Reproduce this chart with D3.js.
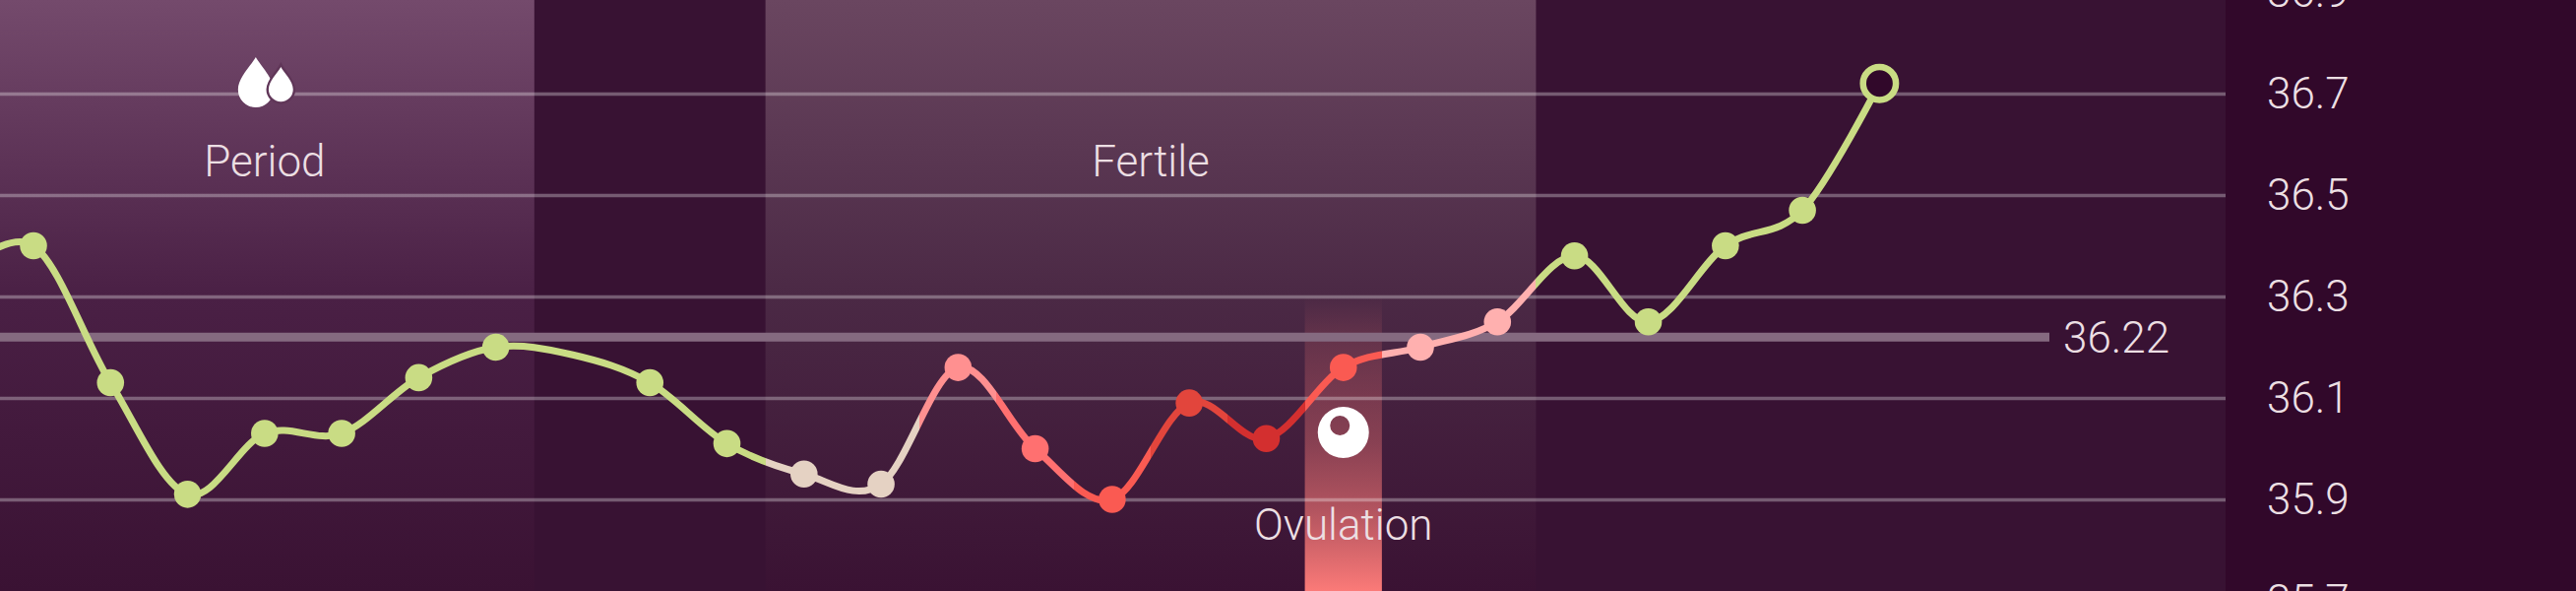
<!DOCTYPE html>
<html><head><meta charset="utf-8">
<script src="https://cdn.jsdelivr.net/npm/d3@7"></script>
<style>html,body{margin:0;padding:0;background:#31082a;overflow:hidden}svg{display:block}text{font-family:Roboto,"Liberation Sans",sans-serif;font-weight:300;fill:#ecdfe3}</style>
</head><body><svg id="c" width="2617" height="600"></svg>
<script>
const days=[-1,0,1,2,3,4,5,6,7,8,9,10,11,12,13,14,15,16,17,18,19,20,20.958,21.958,22.958,23.958];
const temps=[36.34,36.40,36.13,35.91,36.03,36.03,36.14,36.20,36.185,36.13,36.01,35.95,35.93,36.16,36.00,35.90,36.09,36.02,36.16,36.20,36.25,36.38,36.25,36.40,36.47,36.72];
const GREEN="#c9dc84",BEIGE="#e5d2c3",P1="#ff9090",P2="#ff7070",R1="#fa5a52",R2="#e2453c",R3="#d32f2f",P3="#ffb0af";
const dotColors=[GREEN,GREEN,GREEN,GREEN,GREEN,GREEN,GREEN,GREEN,null,GREEN,GREEN,BEIGE,BEIGE,P1,P2,R1,R2,R3,R1,P3,P3,GREEN,GREEN,GREEN,GREEN,GREEN];
const ticks=[36.9,36.7,36.5,36.3,36.1,35.9,35.7];
const threshold=36.22;
const bands=[{label:"Period",from:-1,to:6.5,textDay:3,id:"gP"},{label:"Fertile",from:9.5,to:19.5,textDay:14.5,id:"gF"}];
const ovulationDay=17;
const lastDay=days[days.length-1];

const W=2617,H=600,plotW=2261;
const x=d3.scaleLinear().domain([0,lastDay]).range([34,1909.4]);
const y=d3.scaleLinear().domain([36.7,35.9]).range([95,507]);
const svg=d3.select("#c");
const defs=svg.append("defs");
function grad(id,stops){const g=defs.append("linearGradient").attr("id",id).attr("x1",0).attr("x2",0).attr("y1",0).attr("y2",1);
 stops.forEach(s=>g.append("stop").attr("offset",s[0]).attr("stop-color",s[1]).attr("stop-opacity",s[2]===undefined?1:s[2]));}
grad("gP",[[0,"#744a6c"],[.5,"#4a2045"],[1,"#3a1233"]]);
grad("gF",[[0,"#6a4660"],[.5,"#4b2945"],[1,"#3a1233"]]);
grad("gO",[[0,"#fb7a78",0],[.15,"#fb7a78",.16],[.5,"#fb7a78",.38],[.73,"#fb7a78",.62],[1,"#fb7a78",1]]);
svg.append("rect").attr("width",W).attr("height",H).attr("fill","#31082a");
svg.append("rect").attr("width",plotW).attr("height",H).attr("fill","#381233");
bands.forEach(b=>svg.append("rect").attr("x",Math.max(0,x(b.from))).attr("width",x(b.to)-Math.max(0,x(b.from))).attr("y",0).attr("height",H).attr("fill",`url(#${b.id})`));
svg.append("rect").attr("x",x(ovulationDay-.5)).attr("width",x(ovulationDay+.5)-x(ovulationDay-.5)).attr("y",300).attr("height",300).attr("fill","url(#gO)");
// grid
const axis=d3.axisRight(y).tickValues(ticks).tickSize(plotW).tickPadding(42).tickFormat(d3.format(".1f"));
const ax=svg.append("g").call(axis);
ax.select(".domain").remove();
ax.selectAll("line").attr("stroke","#fff").attr("stroke-opacity",.31).attr("stroke-width",3.5);
ax.selectAll("text").attr("font-size",44).style("fill","#ecdfe3").style("font-family",'Roboto,"Liberation Sans",sans-serif');
// threshold
svg.append("line").attr("x1",0).attr("x2",2082).attr("y1",y(threshold)).attr("y2",y(threshold)).attr("stroke","#856a80").attr("stroke-width",9);
svg.append("text").attr("x",2096).attr("y",y(threshold)).attr("dy",".36em").attr("font-size",44).text(threshold);
// line with hard colour stops
const lg=defs.append("linearGradient").attr("id","lineG").attr("gradientUnits","userSpaceOnUse").attr("x1",0).attr("x2",W).attr("y1",0).attr("y2",0);
dotColors.forEach((c,i)=>{ if(i===0) return; const col=c||GREEN; const a=x(days[i]-.5)/W,b=x(days[i]+.5)/W;
 lg.append("stop").attr("offset",Math.max(0,a)).attr("stop-color",col); lg.append("stop").attr("offset",b).attr("stop-color",col);});
const line=d3.line().x((d,i)=>x(days[i])).y(d=>y(d)).curve(d3.curveCardinal.tension(0));
svg.append("path").attr("d",line(temps)).attr("fill","none").attr("stroke","url(#lineG)").attr("stroke-width",7);
const pts=days.map((d,i)=>({d,t:temps[i],c:dotColors[i]})).filter(p=>p.c&&p.d<lastDay);
svg.selectAll("circle.pt").data(pts).join("circle").attr("class","pt").attr("cx",p=>x(p.d)).attr("cy",p=>y(p.t)).attr("r",13.8).attr("fill",p=>p.c);
svg.append("circle").attr("cx",x(lastDay)).attr("cy",y(temps[temps.length-1])).attr("r",16.7).attr("fill","#31082a").attr("stroke",GREEN).attr("stroke-width",6.5);
// labels
bands.forEach(b=>svg.append("text").attr("x",x(b.textDay)).attr("y",163).attr("dy",".36em").attr("text-anchor","middle").attr("font-size",44).text(b.label));
svg.append("text").attr("x",x(ovulationDay)).attr("y",532).attr("dy",".36em").attr("text-anchor","middle").attr("font-size",44).text("Ovulation");
// icons
const drop="M0,-33C5,-24 18,-12 18,0A18,18 0 1 1 -18,0C-18,-12 -5,-24 0,-33Z";
const ic=svg.append("g").attr("transform",`translate(${x(3)},0)`);
ic.append("path").attr("transform","translate(-9,91)").attr("d",drop).attr("fill","#fff");
ic.append("path").attr("transform","translate(16.5,90.8) scale(.69)").attr("d",drop).attr("fill","#fff").attr("stroke","#603658").attr("stroke-width",7).attr("paint-order","stroke");
svg.append("path").attr("transform",`translate(${x(ovulationDay)},439)`).attr("fill-rule","evenodd").attr("fill","#fff")
 .attr("d","M-26,0A26,26 0 1 0 26,0A26,26 0 1 0 -26,0Z M-13.5,-7A10,10 0 1 0 6.5,-7A10,10 0 1 0 -13.5,-7Z");
</script></body></html>
